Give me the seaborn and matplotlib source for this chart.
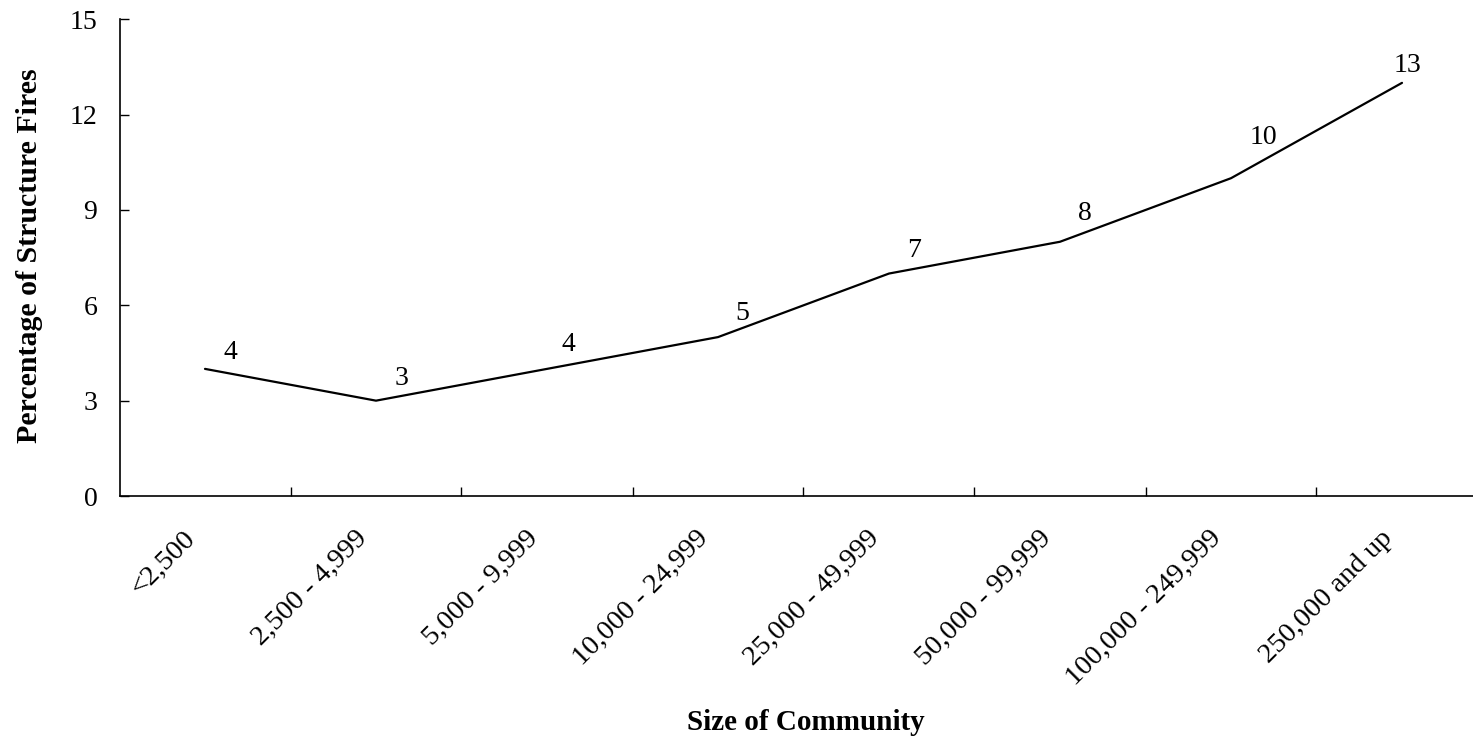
import matplotlib
matplotlib.use("Agg")
import matplotlib.pyplot as plt
import matplotlib.transforms as mtransforms
import seaborn as sns
import pandas as pd
from matplotlib.ticker import FixedLocator, NullFormatter

# Community size brackets and share of structure fires (%)
categories = ["<2,500", "2,500 - 4,999", "5,000 - 9,999", "10,000 - 24,999",
              "25,000 - 49,999", "50,000 - 99,999", "100,000 - 249,999",
              "250,000 and up"]
percentages = [4, 3, 4, 5, 7, 8, 10, 13]
y_ticks = [0, 3, 6, 9, 12, 15]

# Label offsets from each point, in pixels (dx right, dy up)
label_offsets = [(25, 16), (26, 22), (21, 24), (24, 24),
                 (25, 23), (25, 28), (32, 41), (5, 17)]

sns.set_theme(style="white")
plt.rcParams["font.family"] = ["Liberation Serif", "DejaVu Serif"]
for key in ["text.color", "axes.labelcolor", "xtick.color", "ytick.color"]:
    plt.rcParams[key] = "black"

df = pd.DataFrame({"size": categories, "pct": percentages})

W, H, DPI = 1473, 739, 100
fig = plt.figure(figsize=(W / DPI, H / DPI), dpi=DPI)
left_px, right_px, top_px, bottom_px = 119.5, 1487.5, 19.3, 496.0
ax = fig.add_axes([left_px / W, (H - bottom_px) / H,
                   (right_px - left_px) / W, (bottom_px - top_px) / H])

xpos = list(range(len(categories)))
sns.lineplot(x=xpos, y=df["pct"], ax=ax, color="black", linewidth=1.6,
             sort=False, estimator=None)

for x, v, (dx, dy) in zip(xpos, percentages, label_offsets):
    ax.annotate(str(v), (x, v), xytext=(dx * 0.72, dy * 0.72),
                textcoords="offset points", ha="center", va="center",
                fontsize=20, color="black")

ax.set_xlim(-0.5, len(categories) - 0.5)
ax.set_ylim(0, 15)
ax.set_yticks(y_ticks)
ax.set_yticklabels([str(t) for t in y_ticks], fontsize=20)

# Category labels, slanted, ending just left of each category centre
ax.set_xticks(xpos)
ax.xaxis.set_major_formatter(NullFormatter())
label_tf = ax.get_xaxis_transform() + mtransforms.ScaledTranslation(
    -13 / DPI, -38.7 / DPI, fig.dpi_scale_trans)
for x, name in zip(xpos, categories):
    ax.text(x, 0, name, transform=label_tf, rotation=45, ha="right",
            va="center", rotation_mode="anchor", fontsize=20.5,
            color="black")

ax.xaxis.set_minor_locator(FixedLocator([i + 0.5 for i in xpos]))
ax.tick_params(axis="x", which="major", length=0)
ax.tick_params(axis="x", which="minor", direction="in", length=6.5,
               width=1, color="black", bottom=True)
ax.tick_params(axis="y", direction="in", length=6.5, width=1,
               color="black", left=True, pad=16)

for side in ["top", "right"]:
    ax.spines[side].set_visible(False)
for side in ["left", "bottom"]:
    ax.spines[side].set_color("black")
    ax.spines[side].set_linewidth(1.2)

ax.set_xlabel("Size of Community", fontsize=21, fontweight="bold")
ax.set_ylabel("Percentage of Structure Fires", fontsize=21.5,
              fontweight="bold")
ax.xaxis.label.set_va("center")
ax.yaxis.label.set_va("center")
ax.xaxis.set_label_coords((806 - left_px) / (right_px - left_px),
                          -(722 - bottom_px) / (bottom_px - top_px))
ax.yaxis.set_label_coords(-(left_px - 29.5) / (right_px - left_px),
                          (bottom_px - 256) / (bottom_px - top_px))

fig.savefig("out.png", dpi=DPI)
